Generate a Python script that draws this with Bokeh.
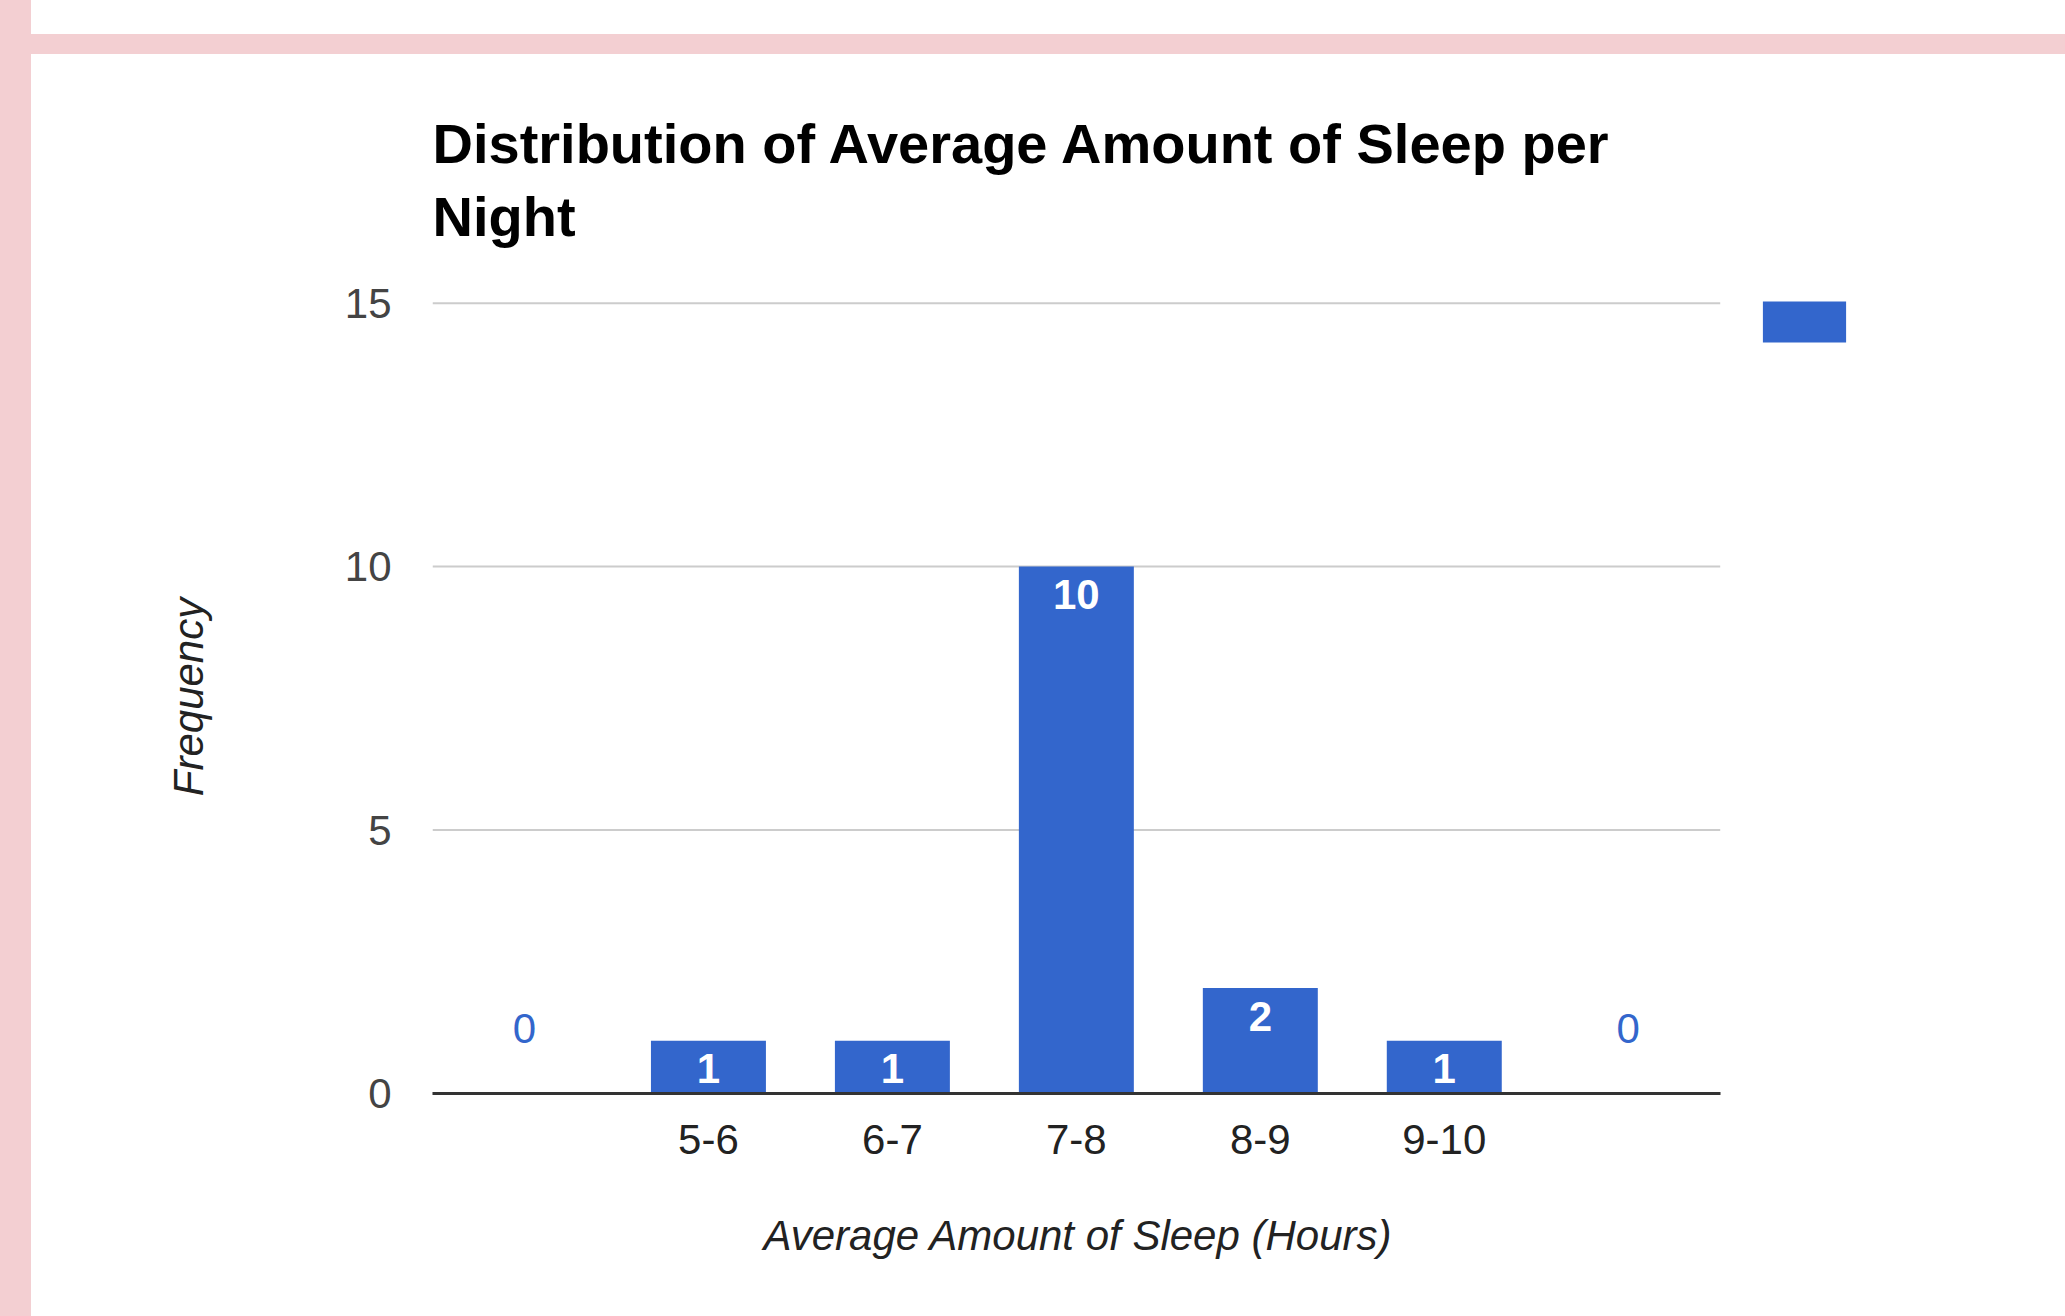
from bokeh.plotting import figure
from bokeh.models import (ColumnDataSource, Range1d, FixedTicker,
                          Legend, LegendItem, Title, Div)
from bokeh.layouts import row, column
from bokeh.core.properties import value
from bokeh.embed import file_html
from bokeh.resources import INLINE

# ---- data ----
categories = [" ", "5-6", "6-7", "7-8", "8-9", "9-10", "  "]
frequency = [0, 1, 1, 10, 2, 1, 0]
y_ticks = [0, 5, 10, 15]
title_text = "Distribution of Average Amount of Sleep per\nNight"
x_title = "Average Amount of Sleep (Hours)"
y_title = "Frequency"

BLUE = "#3366cc"
PINK = "#f3cfd2"
FONT = "Liberation Sans"

n = len(categories)
xpos = [i + 0.5 for i in range(n)]

src = ColumnDataSource(dict(x=xpos, freq=frequency))
inside = ColumnDataSource(dict(
    x=[x for x, v in zip(xpos, frequency) if v > 0],
    freq=[v for v in frequency if v > 0],
    txt=[str(v) for v in frequency if v > 0],
))
zeros = ColumnDataSource(dict(
    x=[x for x, v in zip(xpos, frequency) if v == 0],
    freq=[v for v in frequency if v == 0],
    txt=[str(v) for v in frequency if v == 0],
))

# x range extends past the last category to leave room for the legend key
p = figure(x_range=Range1d(0, n * 1.14), y_range=Range1d(0, 15.05),
           width=2034, height=1262, output_backend="svg", toolbar_location=None,
           title=None, min_border_left=401, min_border_right=165,
           min_border_top=246, min_border_bottom=223)
p.outline_line_color = None
p.background_fill_color = "white"
p.border_fill_color = "white"
p.xgrid.grid_line_color = None
p.ygrid.grid_line_color = None

# horizontal gridlines spanning the category area only
p.segment(x0=[0] * len(y_ticks), x1=[n] * len(y_ticks), y0=y_ticks, y1=y_ticks,
          line_color="#cccccc", line_width=2)

bars = p.vbar(x="x", top="freq", width=0.625, source=src,
              fill_color=BLUE, line_color=None)

p.text(x="x", y="freq", text="txt", source=inside, text_color="white",
       text_font=value(FONT), text_font_style="bold", text_font_size="42px",
       text_align="center", text_baseline="alphabetic", y_offset=28)
p.text(x="x", y="freq", text="txt", source=zeros, text_color=BLUE,
       text_font=value(FONT), text_font_size="42px",
       text_align="center", text_baseline="alphabetic", y_offset=-65)

# title
t_main = Title(text=title_text, text_font=FONT, text_font_size="56px",
               text_font_style="bold", text_color="black", align="left",
               text_line_height=1.16, standoff=105)
p.add_layout(t_main, "above")

# axes
p.xaxis.ticker = FixedTicker(ticks=xpos)
p.xaxis.major_label_overrides = {x: c for x, c in zip(xpos, categories)}
p.xaxis.bounds = (0, n)
p.xaxis.major_label_text_font = FONT
p.xaxis.major_label_text_font_size = "42px"
p.xaxis.major_label_text_color = "#222222"
p.xaxis.major_label_standoff = 16
p.xaxis.major_tick_line_color = None
p.xaxis.minor_tick_line_color = None
p.xaxis.axis_line_color = "#333333"
p.xaxis.axis_line_width = 3

# x-axis title, centred under the category area
x_label = Title(text=x_title, text_font=FONT, text_font_size="42px",
                text_font_style="italic", text_color="#222222", align="left",
                offset=331, standoff=88)
p.add_layout(x_label, "below")

p.yaxis.ticker = FixedTicker(ticks=y_ticks)
p.yaxis.axis_label = y_title
p.yaxis.axis_label_text_font = FONT
p.yaxis.axis_label_text_font_size = "42px"
p.yaxis.axis_label_text_font_style = "italic"
p.yaxis.axis_label_text_color = "#222222"
p.yaxis.axis_label_standoff = 130
p.yaxis.major_label_text_font = FONT
p.yaxis.major_label_text_font_size = "42px"
p.yaxis.major_label_text_color = "#444444"
p.yaxis.major_label_standoff = 35
p.yaxis.major_tick_line_color = None
p.yaxis.minor_tick_line_color = None
p.yaxis.axis_line_color = None

legend = Legend(items=[LegendItem(label=" ", renderers=[bars])],
                location=(1320, 746), glyph_width=104, glyph_height=51,
                padding=0, margin=0, spacing=0, label_standoff=0,
                label_text_font_size="1px", border_line_color=None,
                background_fill_alpha=0)
p.add_layout(legend)

left_strip = Div(text="", width=31, height=1316, margin=0,
                 styles={"background-color": PINK})
top_white = Div(text="", width=2034, height=34, margin=0,
                styles={"background-color": "white"})
top_strip = Div(text="", width=2034, height=20, margin=0,
                styles={"background-color": PINK})

layout = row(left_strip, column(top_white, top_strip, p, spacing=0), spacing=0)

open("out.html", "w").write(file_html(layout, INLINE))
